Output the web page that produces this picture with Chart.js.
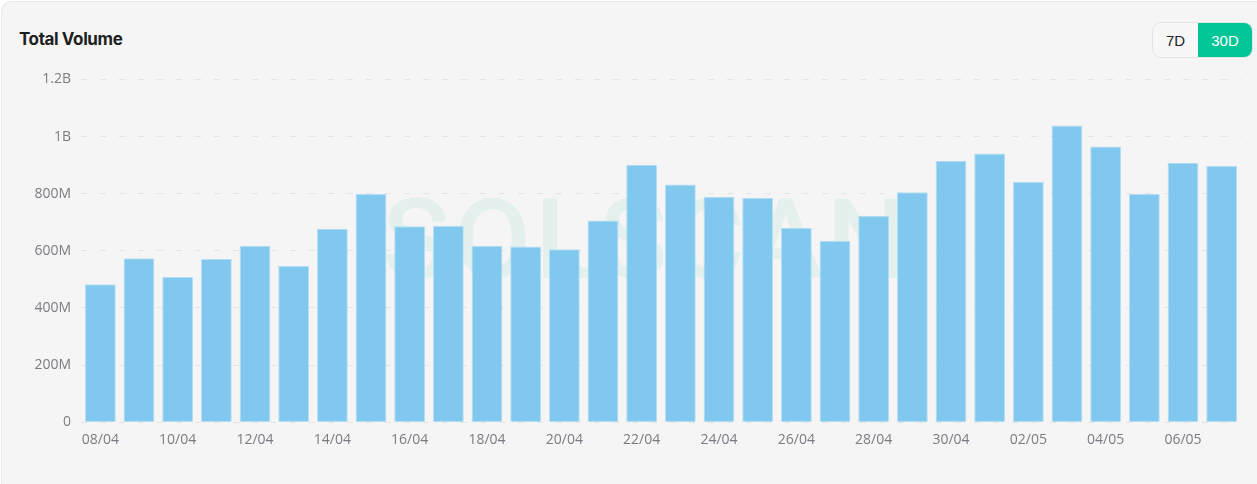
<!DOCTYPE html>
<html>
<head>
<meta charset="utf-8">
<script src="https://cdn.jsdelivr.net/npm/chart.js@4"></script>
<style>
  html, body { margin: 0; padding: 0; background: #ffffff; }
  .card {
    position: absolute; left: 1px; top: 1px; width: 1262px; height: 490px;
    background: #f5f5f5; border: 1px solid #e9e9e9; border-radius: 10px;
    font-family: "Inter", "Liberation Sans", sans-serif; overflow: hidden;
  }
  .title {
    position: absolute; left: 17px; top: 27px; font-size: 17px; font-weight: 700;
    color: #1e1e1e; letter-spacing: -0.4px;
  }
  .toggle {
    position: absolute; left: 1150px; top: 20px; height: 34px; display: flex;
    border: 1px solid #e4e4e4; border-radius: 9px; overflow: hidden; background: #f7f7f7;
  }
  .toggle span {
    display: flex; align-items: center; justify-content: center;
    font-size: 15px; font-family: "Liberation Sans", sans-serif;
  }
  .t7 { width: 45px; color: #222; }
  .t30 { width: 54px; color: #fff; background: #00c596; }
  .wm {
    position: absolute; left: 380px; top: 172px; font-family: "Roboto", sans-serif;
    font-size: 112px; font-weight: 500; letter-spacing: 4px; color: rgba(0, 190, 150, 0.07);
  }
  #wrap { position: absolute; left: -3px; top: 59px; width: 1242px; height: 388px; }
</style>
</head>
<body>
<div class="card">
  <div class="title">Total Volume</div>
  <div class="toggle"><span class="t7">7D</span><span class="t30">30D</span></div>
  <div class="wm">SOLSCAN</div>
  <div id="wrap"><canvas id="chart"></canvas></div>
</div>
<script>
const dates = ['08/04','09/04','10/04','11/04','12/04','13/04','14/04','15/04','16/04','17/04',
  '18/04','19/04','20/04','21/04','22/04','23/04','24/04','25/04','26/04','27/04',
  '28/04','29/04','30/04','01/05','02/05','03/05','04/05','05/05','06/05','07/05'];
const volume = [483e6, 574e6, 508e6, 571e6, 618e6, 547e6, 677e6, 799e6, 686e6, 688e6,
  618e6, 615e6, 605e6, 706e6, 901e6, 832e6, 789e6, 786e6, 680e6, 635e6,
  723e6, 805e6, 915e6, 941e6, 842e6, 1039e6, 965e6, 800e6, 908e6, 898e6];
const yTicks = [0, 200e6, 400e6, 600e6, 800e6, 1e9, 1.2e9];

function fmt(v) {
  if (v === 0) return '0';
  if (v >= 1e9) return (v / 1e9) + 'B';
  return (v / 1e6) + 'M';
}

const ctx = document.getElementById('chart').getContext('2d');
new Chart(ctx, {
  type: 'bar',
  data: {
    labels: dates,
    datasets: [{
      label: 'Total Volume',
      data: volume,
      backgroundColor: '#80c8ee',
      borderColor: '#b5def5',
      borderWidth: 1,
      barPercentage: 0.8,
      categoryPercentage: 1
    }]
  },
  options: {
    responsive: true,
    maintainAspectRatio: false,
    animation: false,
    layout: { padding: { top: 4, right: 0 } },
    plugins: { legend: { display: false }, tooltip: { enabled: false } },
    scales: {
      x: {
        grid: { display: false },
        border: { display: false },
        ticks: {
          autoSkip: false, maxRotation: 0, padding: 1,
          color: '#7b7b83', font: { family: 'Open Sans', size: 14 },
          callback: (v, i) => i % 2 === 0 ? dates[i] : ''
        }
      },
      y: {
        min: 0, max: 1.2e9,
        afterBuildTicks: axis => { axis.ticks = yTicks.map(v => ({ value: v })); },
        afterFit: axis => { axis.width = 82; },
        grid: { color: '#e4e4e4', drawTicks: false },
        border: { display: false, dash: [6, 13] },
        ticks: {
          padding: 10, color: '#7b7b83', font: { family: 'Open Sans', size: 14 },
          callback: v => fmt(v)
        }
      }
    }
  }
});
</script>
</body>
</html>
